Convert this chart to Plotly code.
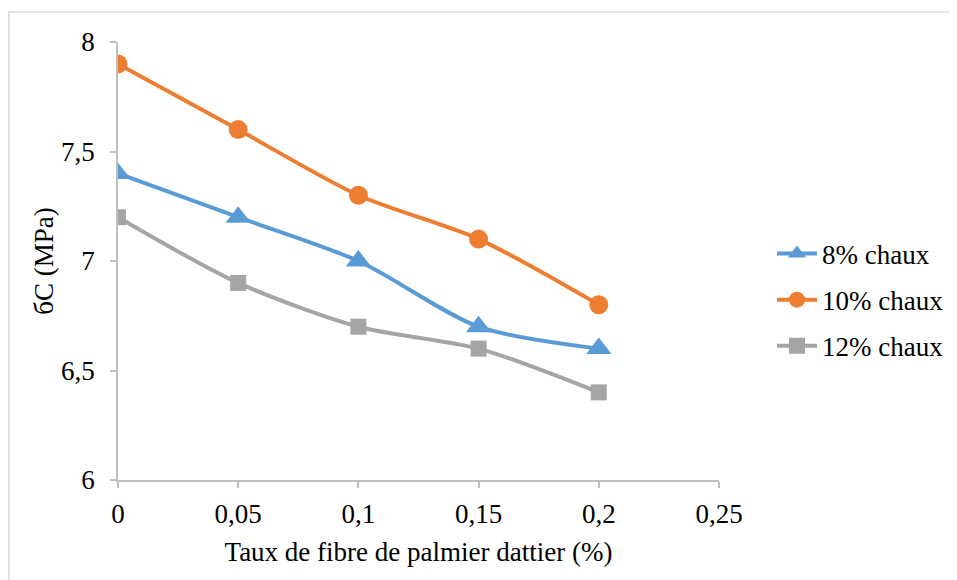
import plotly.graph_objects as go

x_vals = [0, 0.05, 0.1, 0.15, 0.2]
s8 = [7.4, 7.2, 7.0, 6.7, 6.6]
s10 = [7.9, 7.6, 7.3, 7.1, 6.8]
s12 = [7.2, 6.9, 6.7, 6.6, 6.4]
names = ["8% chaux", "10% chaux", "12% chaux"]
x_ticks = [0, 0.05, 0.1, 0.15, 0.2, 0.25]
x_tick_text = ["0", "0,05", "0,1", "0,15", "0,2", "0,25"]
y_ticks = [6, 6.5, 7, 7.5, 8]
y_tick_text = ["6", "6,5", "7", "7,5", "8"]

FONT = "Times New Roman"
FS = 27
series = [
    (s8, names[0], "#5B9BD5", "triangle-up", 22),
    (s10, names[1], "#ED7D31", "circle", 19),
    (s12, names[2], "#A5A5A5", "square", 16),
]

fig = go.Figure()
for i, (ys, nm, col, sym, sz) in enumerate(series):
    fig.add_trace(go.Scatter(
        x=x_vals, y=ys, name=nm, mode="lines+markers",
        line=dict(color=col, width=4, shape="spline", smoothing=0.8),
        marker=dict(symbol=sym, size=sz, color=col),
        legendgroup=f"g{i}",
    ))

OFF = 8  # page body offset
W, H = 957, 580
ml, mt = 118 - OFF, 42 - OFF
pw, ph = 601, 438
mr = W - ml - pw
mb = H - mt - ph

def px_x(p):
    return (p - OFF - ml) / pw

def px_y(p):
    return (OFF + mt + ph - p) / ph

fig.add_shape(type="rect", xref="paper", yref="paper",
              x0=px_x(9), x1=px_x(W + 10), y0=px_y(H + 10), y1=px_y(12),
              line=dict(color="#d9d9d9", width=1.5), fillcolor="rgba(0,0,0,0)",
              layer="below")

axis_common = dict(
    showgrid=False, zeroline=False, showline=True, linecolor="#bfbfbf",
    linewidth=1.5, ticks="outside", ticklen=6, tickcolor="#bfbfbf",
    tickwidth=1.5, tickfont=dict(family=FONT, size=FS, color="#000"),
    automargin=False,
)

fig.update_layout(
    width=W, height=H,
    margin=dict(l=ml, r=mr, t=mt, b=mb),
    paper_bgcolor="white", plot_bgcolor="white",
    font=dict(family=FONT, size=FS, color="#000"),
    xaxis=dict(range=[0, 0.25], tickvals=x_ticks, ticktext=x_tick_text,
               title=dict(text="Taux de fibre de palmier dattier (%)",
                          font=dict(family=FONT, size=FS), standoff=14),
               ticklabelstandoff=3, **axis_common),
    yaxis=dict(range=[6, 8], tickvals=y_ticks, ticktext=y_tick_text,
               title=dict(text="бC (MPa)", font=dict(family=FONT, size=FS),
                          standoff=0),
               ticklabelstandoff=10, **axis_common),
    legend=dict(x=px_x(772), y=px_y(300), xanchor="left", yanchor="middle",
                font=dict(family=FONT, size=FS), tracegroupgap=8,
                bgcolor="rgba(0,0,0,0)", itemwidth=40),
    showlegend=True,
)

fig.write_html("out.html")
